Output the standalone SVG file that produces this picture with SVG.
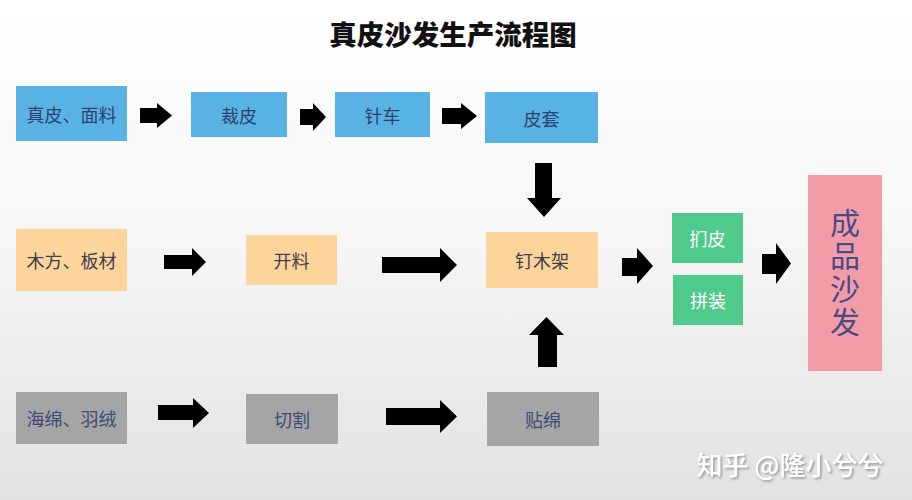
<svg xmlns="http://www.w3.org/2000/svg" width="912" height="500" viewBox="0 0 912 500">
<defs>
<linearGradient id="bg" x1="0" y1="0" x2="0" y2="1">
<stop offset="0" stop-color="#ffffff"/>
<stop offset="0.45" stop-color="#f7f7f7"/>
<stop offset="1" stop-color="#e2e2e2"/>
</linearGradient>
<filter id="sh" x="-10%" y="-30%" width="120%" height="160%">
<feDropShadow dx="1.5" dy="1.5" stdDeviation="0.8" flood-color="#8a8a8a" flood-opacity="0.9"/>
</filter>
</defs>
<style>
text{font-family:"Noto Sans CJK SC","Noto Sans",sans-serif;text-anchor:middle;dominant-baseline:central}
.lbl{font-size:18px}
.blue rect{fill:#58b3e4}
.blue text{fill:#2f4270}
.orange rect{fill:#fdd49a}
.orange text{fill:#3f3f4f}
.gray rect{fill:#a5a5a5}
.gray text{fill:#3f4a78}
.green rect{fill:#4fca8d}
.green text{fill:#ffffff}
.pink rect{fill:#f29ca8}
.pink text{fill:#4a4a86;font-size:30px;writing-mode:vertical-rl;letter-spacing:3px}
.arr{fill:#000000}
</style>
<rect width="912" height="500" fill="url(#bg)"/>
<text x="453" y="33" font-size="27.5" font-weight="900" fill="#111111">真皮沙发生产流程图</text>

<g id="n-zhenpi-mianliao" class="blue"><rect x="16" y="86" width="111" height="55"/><text class="lbl" x="71.5" y="113.5">真皮、面料</text></g>
<g id="n-caipi" class="blue"><rect x="191" y="92" width="96" height="45"/><text class="lbl" x="239" y="114.5">裁皮</text></g>
<g id="n-zhenche" class="blue"><rect x="335" y="92" width="95" height="45"/><text class="lbl" x="382.5" y="114.5">针车</text></g>
<g id="n-pitao" class="blue"><rect x="485" y="92" width="113" height="51"/><text class="lbl" x="541.5" y="117.5">皮套</text></g>

<g id="n-mufang-bancai" class="orange"><rect x="16" y="229" width="111" height="62"/><text class="lbl" x="71.5" y="260">木方、板材</text></g>
<g id="n-kailiao" class="orange"><rect x="246" y="235" width="91" height="50"/><text class="lbl" x="291.5" y="260">开料</text></g>
<g id="n-dingmujia" class="orange"><rect x="486" y="232" width="112" height="56"/><text class="lbl" x="542" y="260">钉木架</text></g>

<g id="n-haimian-yurong" class="gray"><rect x="16" y="392" width="111" height="52"/><text class="lbl" x="71.5" y="418">海绵、羽绒</text></g>
<g id="n-qiege" class="gray"><rect x="246" y="394" width="92" height="50"/><text class="lbl" x="292" y="419">切割</text></g>
<g id="n-tiemian" class="gray"><rect x="487" y="392" width="112" height="54"/><text class="lbl" x="543" y="419">贴绵</text></g>

<g id="n-menpi" class="green"><rect x="672" y="213" width="71" height="50"/><text class="lbl" x="707.5" y="238">扪皮</text></g>
<g id="n-pinzhuang" class="green"><rect x="673" y="275" width="70" height="50"/><text class="lbl" x="708" y="300">拼装</text></g>

<g id="n-chengpin-shafa" class="pink"><rect x="808" y="175" width="74" height="196"/>
<text x="845" y="274">成品沙发</text></g>

<g id="connectors" class="arr">
<polygon points="140,108 157,108 157,103 172,115.5 157,128 157,123 140,123"/>
<polygon points="300,109 313,109 313,103 326,117 313,131 313,125 300,125"/>
<polygon points="442,108 461,108 461,103 477,116 461,129 461,124 442,124"/>
<polygon points="535,163 552,163 552,198 561,198 544,217 527,198 535,198"/>
<polygon points="164,255 192,255 192,248 206,262 192,276 192,269 164,269"/>
<polygon points="382,257 440,257 440,248 457,265 440,282 440,273 382,273"/>
<polygon points="622,258 637,258 637,248 653,266 637,284 637,276 622,276"/>
<polygon points="762,254 776,254 776,243 791,263.5 776,284 776,274 762,274"/>
<polygon points="538,367 557,367 557,335 564,335 546.5,317 529,335 538,335"/>
<polygon points="158,405 193,405 193,398 209,413 193,428 193,420 158,420"/>
<polygon points="386,408 440,408 440,400 457,416.5 440,433 440,425 386,425"/>
</g>

<text x="790" y="463" font-size="26" font-weight="500" fill="#ffffff" filter="url(#sh)">知乎 @隆小兮兮</text>
</svg>
